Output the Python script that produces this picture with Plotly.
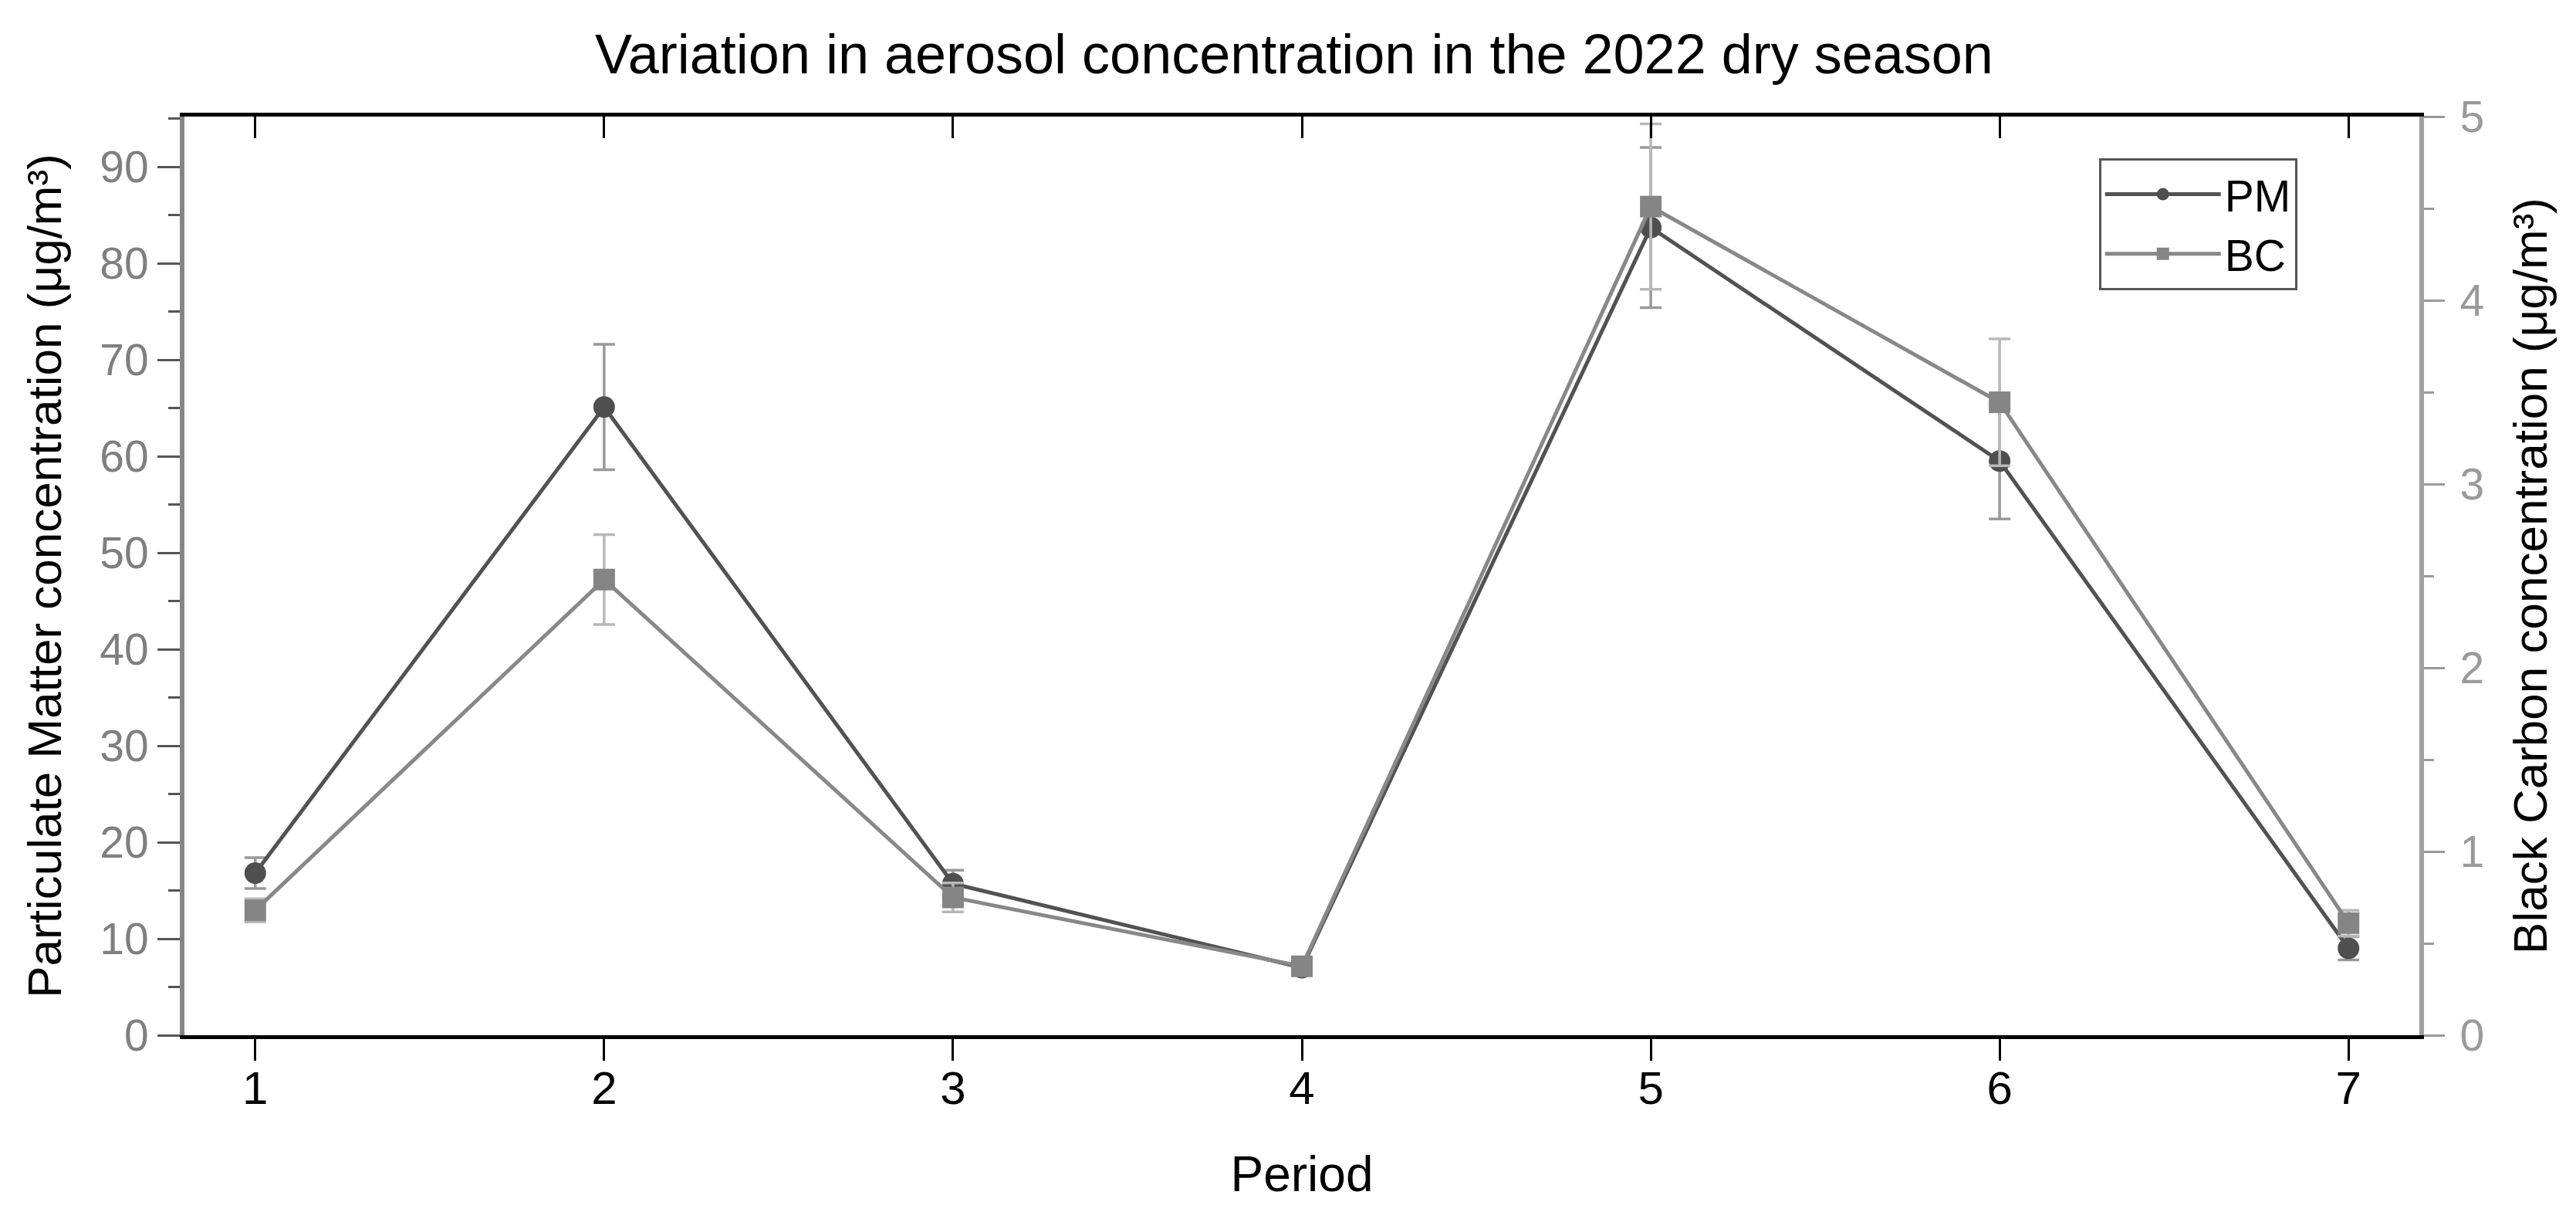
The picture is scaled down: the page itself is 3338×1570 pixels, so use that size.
import plotly.graph_objects as go

periods = [1, 2, 3, 4, 5, 6, 7]
pm_values = [16.8, 65.1, 15.7, 7.0, 83.7, 59.5, 9.0]
pm_errors = [1.6, 6.5, 1.4, 0.4, 8.3, 6.0, 1.2]
bc_values = [0.68, 2.48, 0.75, 0.375, 4.51, 3.445, 0.61]
bc_errors = [0.063, 0.245, 0.079, 0.03, 0.45, 0.345, 0.07]
x_ticks = [1, 2, 3, 4, 5, 6, 7]
pm_ticks = [0, 10, 20, 30, 40, 50, 60, 70, 80, 90]
bc_ticks = [0, 1, 2, 3, 4, 5]

FONT = "Liberation Sans, Arial, sans-serif"
GRAY = "#7f7f7f"

fig = go.Figure()

fig.add_trace(go.Scatter(
    x=periods, y=pm_values, name="PM", mode="lines+markers",
    line=dict(color="#525252", width=5),
    marker=dict(symbol="circle", size=28, color="#4f4f4f"),
    error_y=dict(type="data", array=pm_errors, visible=True,
                 color="#999999", thickness=3.5, width=14),
    yaxis="y",
))
fig.add_trace(go.Scatter(
    x=periods, y=bc_values, name="BC", mode="lines+markers",
    line=dict(color="#888888", width=5),
    marker=dict(symbol="square", size=28, color="#858585"),
    error_y=dict(type="data", array=bc_errors, visible=True,
                 color="#b8b8b8", thickness=3.5, width=14),
    yaxis="y2",
))
# invisible trace to instantiate the top (mirror) axis
fig.add_trace(go.Scatter(
    x=periods, y=[None] * len(periods), xaxis="x2", yaxis="y",
    showlegend=False, hoverinfo="skip", mode="lines",
))

fig.update_layout(
    width=3338, height=1570,
    paper_bgcolor="white", plot_bgcolor="white",
    margin=dict(l=231, r=211, t=143, b=237),
    font=dict(family=FONT, size=57, color="black"),
    title=dict(text="Variation in aerosol concentration in the 2022 dry season",
               x=0.5, xanchor="center", y=1 - 62 / 1570, yanchor="middle",
               yref="container", font=dict(size=72, color="black")),
    xaxis=dict(
        range=[0.797, 7.203], tickvals=x_ticks,
        ticks="outside", ticklen=28, tickwidth=3, tickcolor="black",
        showline=True, linecolor="black", linewidth=5,
        showgrid=False, zeroline=False, ticklabelstandoff=-16,
        tickfont=dict(size=60, color="black"),
        title=dict(text="Period", font=dict(size=64, color="black"), standoff=58),
    ),
    xaxis2=dict(
        overlaying="x", side="top", matches="x", tickvals=x_ticks,
        ticks="inside", ticklen=28, tickwidth=3, tickcolor="black",
        showline=True, linecolor="black", linewidth=5,
        showticklabels=False, showgrid=False, zeroline=False,
    ),
    yaxis=dict(
        range=[0, 95.2], tickvals=pm_ticks,
        ticks="outside", ticklen=29, tickwidth=3, tickcolor="#555555",
        minor=dict(dtick=5, ticks="outside", ticklen=15, tickwidth=3, tickcolor="#555555"),
        showline=True, linecolor="#858585", linewidth=6,
        showgrid=False, zeroline=False,
        tickfont=dict(size=57, color=GRAY),
        title=dict(text="Particulate Matter concentration (μg/m³)",
                   font=dict(size=62, color="black"), standoff=31),
    ),
    yaxis2=dict(
        range=[0, 5], tickvals=bc_ticks, overlaying="y", side="right",
        ticks="outside", ticklen=27, tickwidth=3, tickcolor="#999999",
        minor=dict(dtick=0.5, ticks="outside", ticklen=13, tickwidth=3, tickcolor="#999999"),
        showline=True, linecolor="#a0a0a0", linewidth=6,
        showgrid=False, zeroline=False, ticklabelstandoff=8,
        tickfont=dict(size=57, color="#9a9a9a"),
        title=dict(text="Black Carbon concentration (μg/m³)",
                   font=dict(size=62, color="black"), standoff=40),
    ),
    legend=dict(
        x=0.8566, y=0.9546, xanchor="left", yanchor="top",
        bgcolor="white", bordercolor="#555555", borderwidth=3,
        font=dict(size=57, color="black"), itemwidth=150,
        tracegroupgap=0,
    ),
)

fig.write_html("out.html")
